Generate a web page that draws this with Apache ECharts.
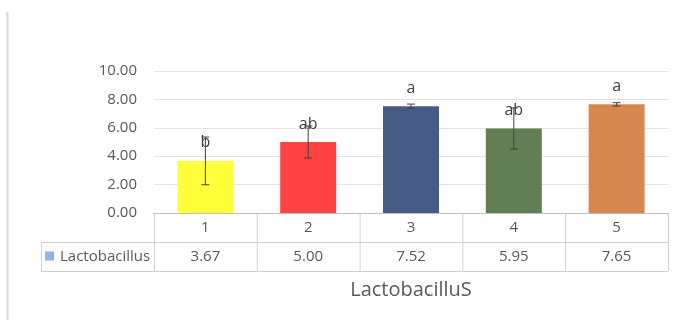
<!DOCTYPE html>
<html><head><meta charset="utf-8">
<script src="https://cdn.jsdelivr.net/npm/echarts@6/dist/echarts.min.js"></script>
<style>html,body{margin:0;padding:0;background:#fff}#c{width:683px;height:320px}</style>
</head><body><div id="c"></div>
<script>
const categories = ['1','2','3','4','5'];
const values = [3.67, 5.00, 7.52, 5.95, 7.65];
const errors = [1.68, 1.13, 0.15, 1.45, 0.12];
const letters = ['b','ab','a','ab','a'];
const barColors = ['#FFFF3A','#FF4343','#465B86','#627E55','#D5874F'];
const seriesName = 'Lactobacillus';
const axisTitle = 'LactobacilluS';
const yTicks = [0, 2, 4, 6, 8, 10];

const FONT = '"Open Sans", "Noto Sans", sans-serif';
const TXT = '#595959';
const chart = echarts.init(document.getElementById('c'), null, {renderer:'canvas'});
const gridL = 154, gridR = 15, gridT = 71, gridB = 107;

chart.setOption({
  animation:false,
  backgroundColor:'#fff',
  grid:{left:gridL, right:gridR, top:gridT, bottom:gridB},
  xAxis:{type:'category', data:categories,
    axisLine:{lineStyle:{color:'#BFBFBF'}}, axisTick:{show:false},
    axisLabel:{color:TXT, fontFamily:FONT, fontSize:15, margin:7}},
  yAxis:{type:'value', min:yTicks[0], max:yTicks[yTicks.length-1], interval:2,
    axisLine:{show:false}, axisTick:{show:false},
    splitLine:{lineStyle:{color:'#E3E3E3', width:1}},
    axisLabel:{color:TXT, fontFamily:FONT, fontSize:15, margin:17, formatter:v=>v.toFixed(2)}},
  series:[
    {type:'bar', name:seriesName, barWidth:56,
     data:values.map((v,i)=>({value:v, itemStyle:{color:barColors[i]}, label:{formatter:letters[i]}})),
     label:{show:true, position:'top', distance:10, color:'#404040', fontFamily:FONT, fontSize:16}},
    {type:'custom', z:5,
     data:values.map((v,i)=>[i, v-errors[i], v+errors[i]]),
     renderItem:(params, api)=>{
       const lo = api.coord([api.value(0), api.value(1)]);
       const hi = api.coord([api.value(0), api.value(2)]);
       const x = lo[0], w = 4;
       const st = {stroke:'#404040', lineWidth:1};
       return {type:'group', children:[
         {type:'line', shape:{x1:x,y1:lo[1],x2:x,y2:hi[1]}, style:st},
         {type:'line', shape:{x1:x-w,y1:lo[1],x2:x+w,y2:lo[1]}, style:st},
         {type:'line', shape:{x1:x-w,y1:hi[1],x2:x+w,y2:hi[1]}, style:st}
       ]};
     }}
  ]
});

// table below the axis
const y0 = chart.convertToPixel({yAxisIndex:0}, 0);
const rowH = 29;
const xLeft = gridL, xRight = 683 - gridR;
const catW = (xRight - xLeft) / categories.length;
const legL = 41;
const lineSt = {stroke:'#D0D0D0', lineWidth:1};
const g = [];
const hl = (x1,y,x2)=>g.push({type:'line', shape:{x1,y1:y+0.5,x2,y2:y+0.5}, style:lineSt, silent:true});
const vl = (x,y1,y2)=>g.push({type:'line', shape:{x1:x+0.5,y1,x2:x+0.5,y2}, style:lineSt, silent:true});
hl(legL, y0+rowH, xRight);
hl(legL, y0+2*rowH, xRight);
for (let i=0;i<=categories.length;i++) vl(xLeft+i*catW, y0, y0+2*rowH);
vl(legL, y0+rowH, y0+2*rowH);
values.forEach((v,i)=>{
  const cx = chart.convertToPixel({xAxisIndex:0}, categories[i]);
  g.push({type:'text', x:cx, y:y0+rowH*1.5, style:{text:v.toFixed(2), fill:TXT, font:'15px '+FONT, align:'center', verticalAlign:'middle'}});
});
g.push({type:'rect', shape:{x:45, y:y0+rowH*1.5-5, width:9, height:9}, style:{fill:'#8DB7E0'}});
g.push({type:'text', x:60, y:y0+rowH*1.5, style:{text:seriesName, fill:TXT, font:'15px '+FONT, verticalAlign:'middle'}});
g.push({type:'text', x:(xLeft+xRight)/2, y:y0+2*rowH+19, style:{text:axisTitle, fill:TXT, font:'20px '+FONT, align:'center', verticalAlign:'middle'}});
g.push({type:'line', shape:{x1:7.5,y1:12,x2:7.5,y2:320}, style:{stroke:'#D8D8D8', lineWidth:2}});
chart.setOption({graphic:g});
</script></body></html>
